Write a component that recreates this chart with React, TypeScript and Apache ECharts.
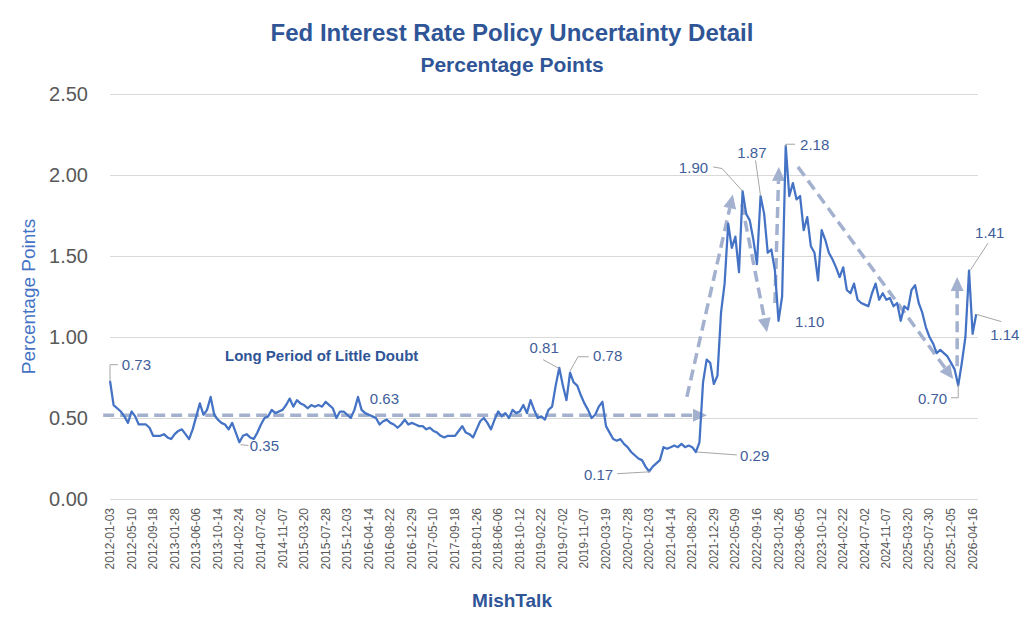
import { useEffect, useRef } from "react";
import * as echarts from "echarts";

const tickLabels = [
  "2012-01-03", "2012-05-10", "2012-09-18", "2013-01-28", "2013-06-06", "2013-10-14",
  "2014-02-24", "2014-07-02", "2014-11-07", "2015-03-20", "2015-07-28", "2015-12-03",
  "2016-04-14", "2016-08-22", "2016-12-29", "2017-05-10", "2017-09-18", "2018-01-26",
  "2018-06-06", "2018-10-12", "2019-02-22", "2019-07-02", "2019-11-07", "2020-03-19",
  "2020-07-28", "2020-12-03", "2021-04-14", "2021-08-20", "2021-12-29", "2022-05-09",
  "2022-09-16", "2023-01-26", "2023-06-05", "2023-10-12", "2024-02-22", "2024-07-02",
  "2024-11-07", "2025-03-20", "2025-07-30", "2025-12-05", "2026-04-16",
];

// observations between two tick labels
const pointsPerTick = 6;
const xMax = 241.5;

const uncertainty = [
  0.73, 0.58, 0.56, 0.54, 0.51, 0.47,
  0.54, 0.51, 0.46, 0.46, 0.46, 0.44,
  0.39, 0.39, 0.39, 0.40, 0.38, 0.37,
  0.40, 0.42, 0.43, 0.40, 0.37, 0.43,
  0.51, 0.59, 0.52, 0.55, 0.63, 0.52,
  0.49, 0.47, 0.46, 0.43, 0.47, 0.41,
  0.35, 0.39, 0.40, 0.38, 0.37, 0.41,
  0.46, 0.50, 0.51, 0.55, 0.53, 0.54,
  0.55, 0.58, 0.62, 0.57, 0.61, 0.59,
  0.58, 0.56, 0.58, 0.57, 0.58, 0.57,
  0.60, 0.58, 0.56, 0.50, 0.54, 0.54,
  0.52, 0.50, 0.55, 0.63, 0.55, 0.53,
  0.52, 0.51, 0.50, 0.46, 0.48, 0.49,
  0.47, 0.46, 0.44, 0.46, 0.49, 0.46,
  0.47, 0.46, 0.45, 0.45, 0.43, 0.44,
  0.42, 0.41, 0.39, 0.38, 0.39, 0.39,
  0.39, 0.42, 0.45, 0.41, 0.40, 0.38,
  0.43, 0.48, 0.50, 0.47, 0.43, 0.49,
  0.54, 0.51, 0.53, 0.50, 0.55, 0.53,
  0.54, 0.58, 0.53, 0.61, 0.55, 0.50,
  0.51, 0.49, 0.55, 0.57, 0.70, 0.81,
  0.70, 0.61, 0.78, 0.72, 0.70, 0.64,
  0.59, 0.55, 0.50, 0.52, 0.57, 0.60,
  0.45, 0.41, 0.37, 0.36, 0.37, 0.34,
  0.32, 0.29, 0.27, 0.25, 0.24, 0.20,
  0.17, 0.20, 0.22, 0.24, 0.32, 0.31,
  0.32, 0.33, 0.32, 0.34, 0.32, 0.33,
  0.32, 0.29, 0.35, 0.72, 0.86, 0.84,
  0.71, 0.76, 1.15, 1.33, 1.70, 1.55,
  1.62, 1.40, 1.90, 1.76, 1.72, 1.60,
  1.45, 1.87, 1.76, 1.52, 1.54, 1.41,
  1.10, 1.25, 2.18, 1.87, 1.95, 1.85,
  1.87, 1.66, 1.74, 1.56, 1.52, 1.35,
  1.66, 1.60, 1.52, 1.48, 1.43, 1.37,
  1.43, 1.29, 1.27, 1.33, 1.23, 1.21,
  1.20, 1.19, 1.27, 1.33, 1.23, 1.27,
  1.23, 1.24, 1.19, 1.21, 1.10, 1.19,
  1.17, 1.29, 1.32, 1.21, 1.15, 1.06,
  1.00, 0.96, 0.90, 0.92, 0.90, 0.88,
  0.84, 0.80, 0.70, 0.84, 1.00, 1.41,
  1.02, 1.14,
];

const titleText = "Fed Interest Rate Policy Uncertainty Detail";
const subtitleText = "Percentage Points";
const yAxisName = "Percentage Points";
const sourceText = "MishTalk";
const noteText = "Long Period of Little Doubt";
const notePos: [number, number] = [32.0, 0.885];

type Callout = {
  text: string;
  at: [number, number];
  align: "left" | "center" | "right";
  leader?: [number, number][];
};

const callouts: Callout[] = [
  { text: "0.73", at: [3.3, 0.829], align: "left", leader: [[0, 0.725], [0, 0.829], [2.2, 0.829]] },
  { text: "0.35", at: [38.9, 0.329], align: "left", leader: [[36.3, 0.335], [38.5, 0.33]] },
  { text: "0.63", at: [72.3, 0.62], align: "left" },
  { text: "0.81", at: [120.8, 0.934], align: "center", leader: [[120.5, 0.86], [125, 0.805]] },
  { text: "0.78", at: [134.4, 0.885], align: "left", leader: [[128, 0.79], [130.2, 0.878], [133.2, 0.878]] },
  { text: "0.17", at: [140.0, 0.15], align: "right", leader: [[141.1, 0.156], [150.2, 0.168]] },
  { text: "0.29", at: [175.3, 0.267], align: "left", leader: [[163.3, 0.29], [174.4, 0.272]] },
  { text: "1.90", at: [166.4, 2.045], align: "right", leader: [[167.8, 2.05], [170.3, 2.04], [176, 1.9]] },
  { text: "1.87", at: [178.6, 2.137], align: "center", leader: [[179.6, 2.09], [181, 1.87]] },
  { text: "2.18", at: [192.0, 2.187], align: "left", leader: [[188, 2.175], [188, 2.19], [190.6, 2.19]] },
  { text: "1.10", at: [190.6, 1.095], align: "left" },
  { text: "1.41", at: [240.7, 1.644], align: "left", leader: [[239.3, 1.41], [244.3, 1.58]] },
  { text: "1.14", at: [244.9, 1.014], align: "left", leader: [[241, 1.14], [248, 1.095]] },
  { text: "0.70", at: [232.9, 0.62], align: "right", leader: [[236, 0.705], [236, 0.625], [234, 0.625]] },
];

const trendArrows: [[number, number], [number, number]][] = [
  [[-1.9, 0.517], [166.1, 0.517]],
  [[160.5, 0.63], [173.3, 1.88]],
  [[175.8, 1.82], [182.8, 1.03]],
  [[185.0, 1.21], [186.1, 2.05]],
  [[191.4, 2.05], [234.6, 0.74]],
  [[235.7, 0.82], [235.7, 1.37]],
];

const FONT = '"Liberation Sans", Arial, sans-serif';

export default function App() {
  const ref = useRef<HTMLDivElement>(null);

  useEffect(() => {
    document.body.style.margin = "0";
    const el = ref.current;
    if (!el) return;
    const chart = echarts.init(el, null, { renderer: "svg" });

    const option: any = {
      animation: false,
      backgroundColor: "#ffffff",
      textStyle: { fontFamily: FONT },
      title: [
        {
          text: titleText,
          left: "center",
          top: 15,
          textStyle: { fontFamily: FONT, fontSize: 24, fontWeight: "bold", color: "#2F5597" },
        },
        {
          text: subtitleText,
          left: "center",
          top: 49,
          textStyle: { fontFamily: FONT, fontSize: 21, fontWeight: "bold", color: "#2F5597" },
        },
        {
          text: sourceText,
          left: "center",
          top: 586,
          textStyle: { fontFamily: FONT, fontSize: 19, fontWeight: "bold", color: "#2F5597" },
        },
      ],
      grid: { left: 110, right: 46, top: 94, bottom: 123, containLabel: false },
      xAxis: {
        type: "value",
        min: 0,
        max: xMax,
        interval: pointsPerTick,
        axisLine: { show: false },
        axisTick: { show: false },
        splitLine: { show: false },
        axisLabel: {
          rotate: 90,
          fontSize: 12,
          fontFamily: FONT,
          color: "#595959",
          margin: 9,
          formatter: (v: number) => {
            const k = v / pointsPerTick;
            const r = Math.round(k);
            return Math.abs(k - r) < 1e-6 && tickLabels[r] ? tickLabels[r] : "";
          },
        },
      },
      yAxis: {
        type: "value",
        min: 0,
        max: 2.5,
        interval: 0.5,
        name: yAxisName,
        nameLocation: "middle",
        nameGap: 72,
        nameTextStyle: { color: "#4472C4", fontSize: 19, fontFamily: FONT },
        axisLine: { show: false },
        axisTick: { show: false },
        axisLabel: {
          fontSize: 20,
          fontFamily: FONT,
          color: "#595959",
          margin: 22,
          formatter: (v: number) => v.toFixed(2),
        },
        splitLine: { lineStyle: { color: "#D9D9D9", width: 1 } },
      },
      series: [
        {
          type: "line",
          data: uncertainty.map((v, i) => [i, v]),
          showSymbol: false,
          symbol: "none",
          clip: false,
          z: 5,
          lineStyle: { color: "#4472C4", width: 2.25, join: "round" },
        },
      ],
    };
    chart.setOption(option);

    const px = (p: [number, number]) =>
      chart.convertToPixel({ gridIndex: 0 }, p) as unknown as number[];

    const elements: any[] = [];
    const arrowColor = "#A3B1CF";
    trendArrows.forEach(([a, b]) => {
      const p1 = px(a);
      const p2 = px(b);
      const dx = p2[0] - p1[0];
      const dy = p2[1] - p1[1];
      const len = Math.hypot(dx, dy) || 1;
      const ux = dx / len;
      const uy = dy / len;
      const headL = 14;
      const headW = 13;
      const bx = p2[0] - ux * headL;
      const by = p2[1] - uy * headL;
      elements.push({
        type: "line",
        z: 3,
        shape: { x1: p1[0], y1: p1[1], x2: bx, y2: by },
        style: { stroke: arrowColor, lineWidth: 3.5, lineDash: [11, 6] },
      });
      elements.push({
        type: "polygon",
        z: 3,
        shape: {
          points: [
            [p2[0], p2[1]],
            [bx - uy * headW / 2, by + ux * headW / 2],
            [bx + uy * headW / 2, by - ux * headW / 2],
          ],
        },
        style: { fill: arrowColor },
      });
    });

    callouts.forEach((c) => {
      if (c.leader) {
        elements.push({
          type: "polyline",
          z: 8,
          shape: { points: c.leader.map((p) => px(p)) },
          style: { stroke: "#A6A6A6", lineWidth: 1, fill: null },
        });
      }
      const p = px(c.at);
      elements.push({
        type: "text",
        z: 10,
        x: p[0],
        y: p[1],
        style: {
          text: c.text,
          fill: "#3F5E9A",
          font: `15px ${FONT}`,
          align: c.align,
          verticalAlign: "middle",
          textAlign: c.align,
          textVerticalAlign: "middle",
        },
      });
    });

    const np = px(notePos);
    elements.push({
      type: "text",
      z: 10,
      x: np[0],
      y: np[1],
      style: {
        text: noteText,
        fill: "#2F5597",
        font: `bold 15px ${FONT}`,
        align: "left",
        verticalAlign: "middle",
        textAlign: "left",
        textVerticalAlign: "middle",
      },
    });

    chart.setOption({ graphic: { elements } });

    return () => chart.dispose();
  }, []);

  return <div ref={ref} style={{ width: 1024, height: 622 }} />;
}
